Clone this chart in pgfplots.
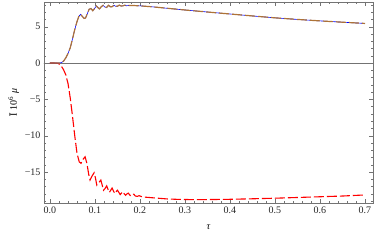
\documentclass[border=0pt]{standalone}
\usepackage{fontspec}
\setmainfont{Liberation Serif}
\usepackage{pgfplots}
\pgfplotsset{compat=1.18}
\definecolor{brn}{rgb}{0.68,0.45,0.22}
\definecolor{frm}{gray}{0.45}
\begin{document}
\begin{tikzpicture}[x=1pt,y=1pt]
\begin{axis}[
  scale only axis, width=329pt, height=201pt,
  xmin=-0.0133, xmax=0.7178, ymin=-19.26, ymax=8.4,
  axis line style={frm, line width=0.5pt},
  tick style={frm, line width=0.4pt},
  major tick length=4pt, minor tick length=2pt,
  tick align=inside, xtick pos=both, ytick pos=both,
  xtick={0,0.1,0.2,0.3,0.4,0.5,0.6,0.7},
  xticklabels={0.0,0.1,0.2,0.3,0.4,0.5,0.6,0.7},
  minor xtick={0.02,0.04,...,0.7},
  ytick={-15,-10,-5,0,5},
  yticklabels={−15,−10,−5,0,5},
  minor ytick={-19,-18,...,8},
  ticklabel style={font=\fontsize{10}{11}\selectfont, text=black!85},
  xlabel={\textit{τ}}, ylabel={Ī 10\textsuperscript{6} \textit{μ}},
  label style={font=\fontsize{10}{11}\selectfont},
  xlabel style={yshift=-5pt},
  ylabel style={yshift=-1pt},
  clip=true,
]
\addplot[frm, line width=0.5pt, forget plot] coordinates {(-0.02,0) (0.73,0)};
\addplot[red, line width=1.1pt, dash pattern=on 10pt off 3pt] coordinates {
(0,0) (0.01,0) (0.018,-0.05) (0.022,-0.2) (0.025,-0.4) (0.03,-0.9) (0.035,-1.6) (0.04,-2.8) (0.045,-4.8) (0.05,-7.3) (0.055,-10.0) (0.06,-12.4) (0.065,-13.6) (0.069,-13.8) (0.074,-13.2) (0.078,-12.9) (0.082,-13.8) (0.086,-15.3) (0.089,-16.1) (0.093,-15.6) (0.098,-15.1) (0.101,-15.8) (0.104,-16.8) (0.108,-16.5) (0.113,-16.1) (0.116,-16.8) (0.119,-17.5) (0.122,-17.3) (0.126,-16.9) (0.129,-17.4) (0.132,-17.8) (0.135,-17.5) (0.138,-17.2) (0.141,-17.6) (0.144,-17.95) (0.147,-17.7) (0.150,-17.5) (0.153,-17.8) (0.156,-18.1) (0.159,-17.9) (0.162,-17.7) (0.165,-18.0) (0.168,-18.2) (0.171,-18.0) (0.174,-17.9) (0.177,-18.15) (0.180,-18.3) (0.183,-18.15) (0.186,-18.05) (0.190,-18.3) (0.194,-18.35) (0.198,-18.25) (0.202,-18.35) (0.21,-18.45) (0.22,-18.5) (0.24,-18.6) (0.26,-18.7) (0.28,-18.75) (0.30,-18.78) (0.33,-18.8) (0.36,-18.78) (0.40,-18.75) (0.45,-18.68) (0.50,-18.6) (0.55,-18.5) (0.60,-18.4) (0.65,-18.3) (0.70,-18.15)};
\addplot[blue, line width=0.6pt] coordinates {
(0,0) (0.02,0) (0.025,0.05) (0.03,0.25) (0.035,0.7) (0.04,1.3) (0.045,2.1) (0.05,3.3) (0.055,4.6) (0.06,5.7) (0.064,6.4) (0.068,6.7) (0.072,6.4) (0.076,6.15) (0.079,6.2) (0.083,6.8) (0.087,7.4) (0.091,7.5) (0.095,7.2) (0.099,7.5) (0.103,7.85) (0.107,7.6) (0.110,7.45) (0.114,7.75) (0.118,7.95) (0.122,7.7) (0.126,7.65) (0.130,7.95) (0.134,7.75) (0.138,7.75) (0.142,7.95) (0.146,7.8) (0.150,7.82) (0.154,7.97) (0.158,7.85) (0.162,7.87) (0.166,7.96) (0.170,7.88) (0.175,7.92) (0.18,7.93) (0.19,7.9) (0.20,7.87) (0.225,7.75) (0.25,7.6) (0.275,7.45) (0.30,7.3) (0.35,7.02) (0.40,6.75) (0.45,6.48) (0.50,6.22) (0.55,6.0) (0.60,5.8) (0.65,5.62) (0.70,5.45)};
\addplot[brn, line width=1.2pt, dash pattern=on 10pt off 3pt] coordinates {
(0,0) (0.02,0) (0.025,0.05) (0.03,0.25) (0.035,0.7) (0.04,1.3) (0.045,2.1) (0.05,3.3) (0.055,4.6) (0.06,5.7) (0.064,6.4) (0.068,6.7) (0.072,6.4) (0.076,6.15) (0.079,6.2) (0.083,6.8) (0.087,7.4) (0.091,7.5) (0.095,7.2) (0.099,7.5) (0.103,7.85) (0.107,7.6) (0.110,7.45) (0.114,7.75) (0.118,7.95) (0.122,7.7) (0.126,7.65) (0.130,7.95) (0.134,7.75) (0.138,7.75) (0.142,7.95) (0.146,7.8) (0.150,7.82) (0.154,7.97) (0.158,7.85) (0.162,7.87) (0.166,7.96) (0.170,7.88) (0.175,7.92) (0.18,7.93) (0.19,7.9) (0.20,7.87) (0.225,7.75) (0.25,7.6) (0.275,7.45) (0.30,7.3) (0.35,7.02) (0.40,6.75) (0.45,6.48) (0.50,6.22) (0.55,6.0) (0.60,5.8) (0.65,5.62) (0.70,5.45)};
\end{axis}
\pgfresetboundingbox
\useasboundingbox (-44pt,-38pt) rectangle (330pt,203pt);
\end{tikzpicture}
\end{document}
